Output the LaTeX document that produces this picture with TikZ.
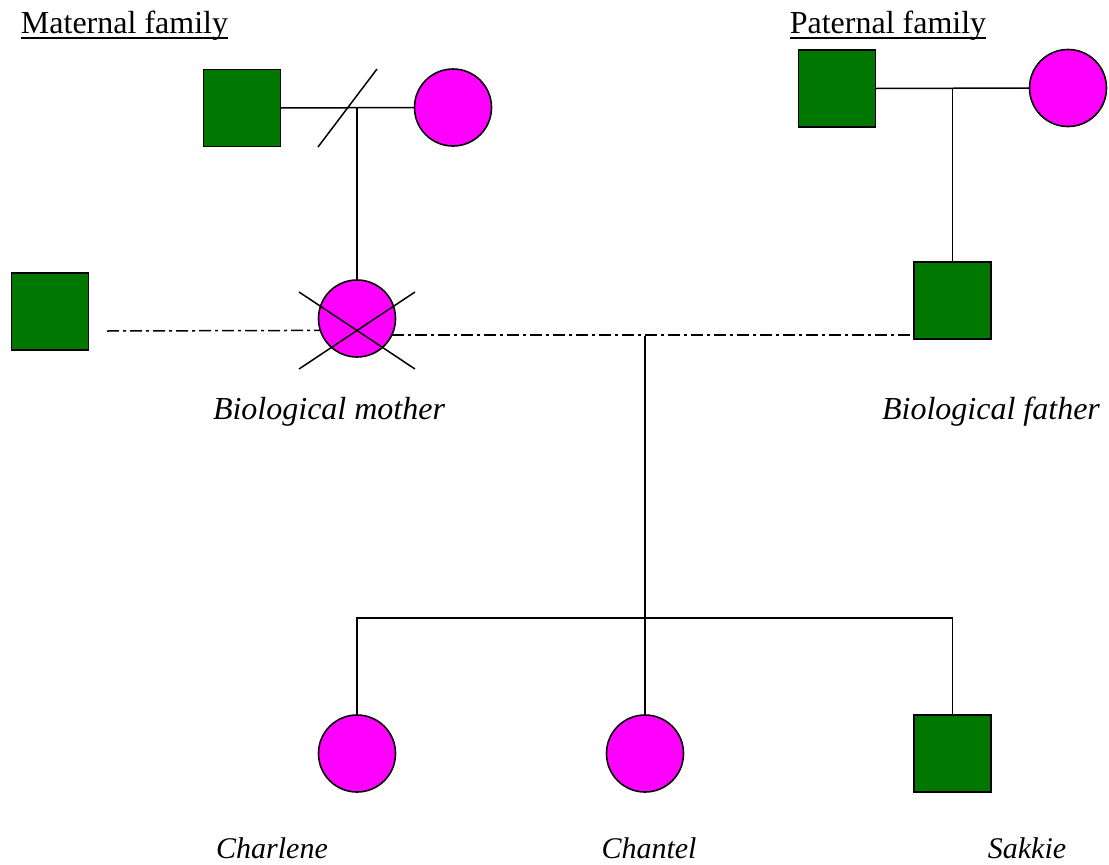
\documentclass[tikz,border=0pt]{standalone}
\usepackage{fontspec}
\setmainfont{Liberation Serif}
\usetikzlibrary{calc}
\definecolor{mgreen}{RGB}{0,120,0}
\definecolor{mpink}{RGB}{255,0,255}
\tikzset{
  male/.style={draw=black, fill=mgreen, line width=1.6pt, minimum size=77pt, inner sep=0pt, outer sep=0pt},
  female/.style={circle, draw=black, fill=mpink, line width=1.6pt, minimum size=77pt, inner sep=0pt, outer sep=0pt},
  link/.style={line width=1.5pt},
  dd/.style={line width=1.5pt, dash pattern=on 12pt off 4pt on 3pt off 4pt},
  lab/.style={anchor=base, inner sep=0pt, font=\fontsize{32}{38}\selectfont\itshape},
  kidlab/.style={anchor=base, inner sep=0pt, font=\fontsize{30}{36}\selectfont\itshape},
  head/.style={anchor=base, inner sep=0pt, font=\fontsize{32}{38}\selectfont}
}
\begin{document}
\begin{tikzpicture}[x=1pt, y=-1pt]
\useasboundingbox (0,0) rectangle (1109,865);
% maternal grandparents
\node[male] (mgf) at (242,108) {};
\node[female] (mgm) at (453,107.5) {};
% paternal grandparents
\node[male] (pgf) at (837,88.5) {};
\node[female] (pgm) at (1068,88) {};
% generation 2
\node[male] (lp) at (50,311.5) {};
\node[female] (mother) at (357,318.5) {};
\node[male] (father) at (952.5,300.5) {};
% children
\node[female] (kid1) at (357,753.5) {};
\node[female] (kid2) at (645,753.5) {};
\node[male] (kid3) at (952.5,753.5) {};
% connectors
\draw[link] (mgf.east) -- (mgm.west);
\draw[link] (mgf.east -| mother.north) -- (mother.north);
\draw[link] (318,147) -- (377,69);
\draw[link] (pgf.east) -- (pgm.west);
\draw[link] (pgf.east -| father.north) -- (father.north);
% mother crossed
\draw[link] (299,292) -- (415,369);
\draw[link] (415,292) -- (299,369);
% partnerships
\coordinate (lend) at (107,331);
\draw[dd] (lend) -- (mother.198.7);
\draw[dd] (mother.-25.8) -- (mother.-25.8 -| father.west);
\coordinate (mate) at (645,335.7);
\coordinate (sib) at (645,618);
\draw[link] (mate) -- (sib);
\draw[link] (kid1.north) |- (kid3.north |- sib) -- (kid3.north);
\draw[link] (kid2.north |- sib) -- (kid2.north);
% labels
\node[head] (mat) at (124.5,33) {Maternal family};
\node[head] (pat) at (888,33) {Paternal family};
\draw[line width=1.8pt] ([yshift=-5pt]mat.base west) -- ([yshift=-5pt]mat.base east);
\draw[line width=1.8pt] ([yshift=-5pt]pat.base west) -- ([yshift=-5pt]pat.base east);
\node[lab] (lm) at (329,419) {Biological mother};
\node[lab] (lf) at (991,419) {Biological father};
\node[kidlab] (l1) at (272,858) {Charlene};
\node[kidlab] (l2) at (649,858) {Chantel};
\node[kidlab] (l3) at (1027,858) {Sakkie};
\end{tikzpicture}
\end{document}
